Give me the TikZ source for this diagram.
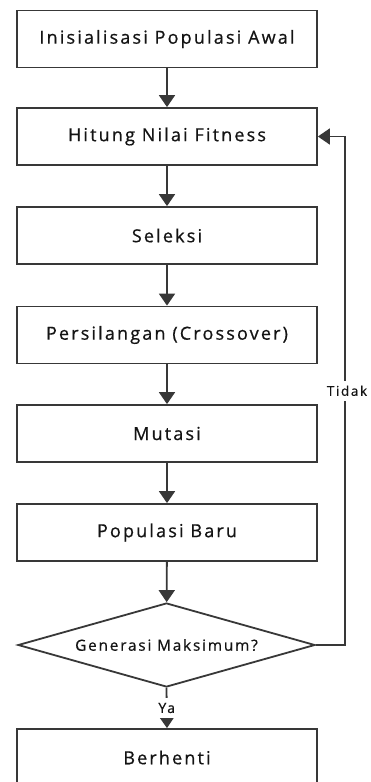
\documentclass[tikz,border=0pt]{standalone}
\usepackage{fontspec}
\setmainfont{Open Sans}[LetterSpace=12, FakeBold=0.6]
\usetikzlibrary{shapes.geometric,arrows.meta}
\begin{document}
\begin{tikzpicture}[x=1pt,y=-1pt,
  lc/.style={draw=black!78, line width=1.8pt},
  box/.style={lc, rectangle, minimum width=300pt, minimum height=57pt, inner sep=0pt,
    font=\fontsize{18}{21}\selectfont, text=black!92},
  dec/.style={lc, diamond, shape aspect=3.5, minimum width=297pt, minimum height=84pt, inner sep=0pt,
    font=\fontsize{15.3}{18}\selectfont, text=black!92},
  lbl/.style={fill=white, inner xsep=1pt, inner ysep=5pt, text=black!92},
  arr/.style={lc, -{Triangle[width=16pt,length=12pt]}}
]
\useasboundingbox (0,0) rectangle (370,782);
\clip (0,0) rectangle (370,782);
\fill[white] (0,0) rectangle (370,782);

\node[box] (b1) at (167,39) {Inisialisasi Populasi Awal};
\node[box] (b2) at (167,136.5) {Hitung Nilai Fitness};
\node[box] (b3) at (167,235.5) {Seleksi};
\node[box] (b4) at (167,335) {Persilangan (Crossover)};
\node[box] (b5) at (167,433.5) {Mutasi};
\node[box] (b6) at (167,532.5) {Populasi Baru};
\node[dec] (d) at (166.5,645) {Generasi Maksimum?};
\node[box] (b7) at (167,757.5) {Berhenti};

\coordinate (c1) at (345,645);
\coordinate (c2) at (345,136.5);

\draw[arr] (b1) -- (b2);
\draw[arr] (b2) -- (b3);
\draw[arr] (b3) -- (b4);
\draw[arr] (b4) -- (b5);
\draw[arr] (b5) -- (b6);
\draw[arr] (b6) -- (d);
\draw[arr] (d.south) -- node[lbl, font=\fontsize{14}{16}\selectfont] {Ya} (b7.north);
\draw[arr] (d.east) -- (c1) -- node[lbl, pos=0.5, xshift=2pt, font=\fontsize{13.5}{16}\selectfont] {Tidak} (c2) -- (b2.east);
\end{tikzpicture}
\end{document}
